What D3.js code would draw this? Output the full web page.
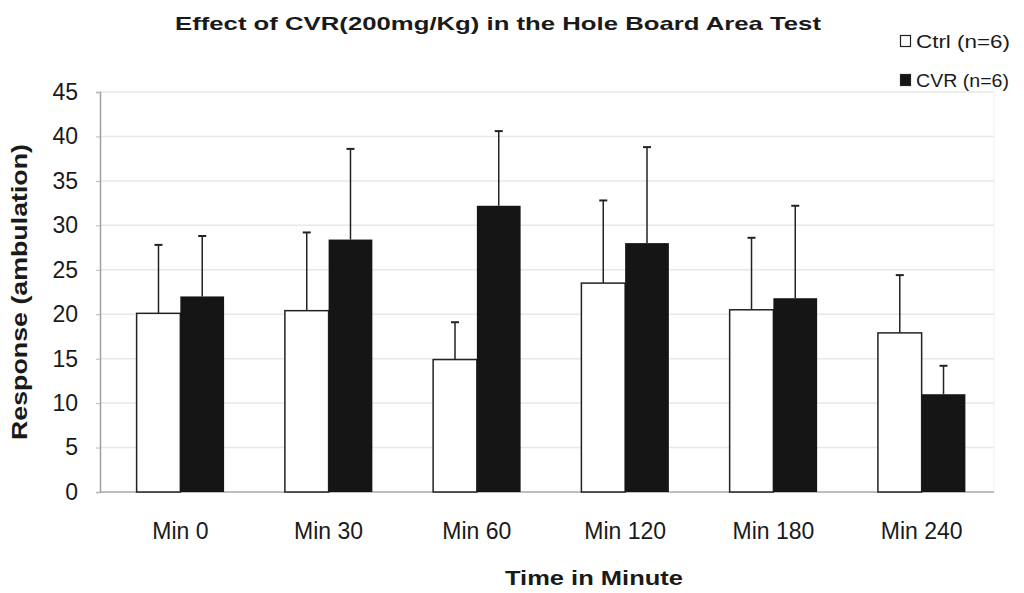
<!DOCTYPE html>
<html>
<head>
<meta charset="utf-8">
<script src="https://cdn.jsdelivr.net/npm/d3@7"></script>
<style>
  body { margin: 0; background: #fff; }
  text { font-family: "Liberation Sans", Arial, sans-serif; fill: #1a1a1a; }
</style>
</head>
<body>
<div class="chart"></div>
<script>
var categories = ["Min 0", "Min 30", "Min 60", "Min 120", "Min 180", "Min 240"];
var seriesNames = ["Ctrl (n=6)", "CVR (n=6)"];
var ctrlValues = [20.1, 20.4, 14.9, 23.5, 20.5, 17.9];
var ctrlErrors = [7.7, 8.8, 4.2, 9.3, 8.1, 6.5];
var cvrValues = [22.0, 28.4, 32.2, 28.0, 21.8, 11.0];
var cvrErrors = [6.8, 10.2, 8.4, 10.8, 10.4, 3.2];
var yTicks = [0, 5, 10, 15, 20, 25, 30, 35, 40, 45];

var width = 1024, height = 593;
var plot = {left: 100, right: 994, top: 92, bottom: 492};

var svg = d3.select(".chart").append("svg")
    .attr("width", width)
    .attr("height", height);

var x = d3.scaleBand()
  .domain(categories)
  .range([plot.left + 4, plot.right + 4])
  .paddingInner(0.41)
  .paddingOuter(0.22);

var xSub = d3.scaleBand()
  .domain(seriesNames)
  .range([0, x.bandwidth()]);

var y = d3.scaleLinear()
  .domain([0, 45])
  .range([plot.bottom, plot.top]);

// grid lines
svg.append("g")
  .selectAll("line")
  .data(yTicks.slice(1))
  .enter().append("line")
    .attr("x1", plot.left)
    .attr("x2", plot.right)
    .attr("y1", function(d) { return y(d); })
    .attr("y2", function(d) { return y(d); })
    .style("stroke", "#e8e8e8")
    .style("stroke-width", 1.5);

svg.append("line")
  .attr("x1", plot.right).attr("x2", plot.right)
  .attr("y1", plot.top).attr("y2", plot.bottom)
  .style("stroke", "#f0f0f0");

// y axis
var yAxis = d3.axisLeft(y).tickValues(yTicks).tickSize(4).tickPadding(18);
var gY = svg.append("g")
  .attr("transform", "translate(" + plot.left + ",0)")
  .call(yAxis);
gY.select(".domain").style("stroke", "#a0a0a0").style("stroke-width", 1.5);
gY.selectAll(".tick line").style("stroke", "#b8b8b8");
gY.selectAll(".tick text")
  .style("font-size", "23px")
  .style("font-family", "'Liberation Sans', Arial, sans-serif")
  .style("fill", "#1a1a1a");

// baseline
svg.append("line")
  .attr("x1", plot.left).attr("x2", plot.right)
  .attr("y1", y(0)).attr("y2", y(0))
  .style("stroke", "#a8a8a8")
  .style("stroke-width", 1.5);

// x axis labels
var xAxis = d3.axisBottom(x).tickSize(0).tickPadding(31);
var gX = svg.append("g")
  .attr("transform", "translate(0," + plot.bottom + ")")
  .call(xAxis);
gX.select(".domain").remove();
gX.selectAll(".tick text")
  .style("font-size", "23px")
  .style("font-family", "'Liberation Sans', Arial, sans-serif")
  .style("fill", "#1a1a1a");

var rows = categories.map(function(c, i) {
  return [
    {cat: c, name: seriesNames[0], value: ctrlValues[i], err: ctrlErrors[i]},
    {cat: c, name: seriesNames[1], value: cvrValues[i], err: cvrErrors[i]}
  ];
});

var group = svg.selectAll(".group")
  .data(rows)
  .enter().append("g")
    .attr("class", "group")
    .attr("transform", function(d) { return "translate(" + x(d[0].cat) + ",0)"; });

// error bars first, so bars sit on top
group.selectAll(".err")
  .data(function(d) { return d; })
  .enter().append("g")
    .attr("class", "err")
    .each(function(d) {
      var g = d3.select(this);
      var cx = xSub(d.name) + xSub.bandwidth() / 2;
      g.append("line")
        .attr("x1", cx).attr("x2", cx)
        .attr("y1", y(d.value)).attr("y2", y(d.value + d.err))
        .style("stroke", "#222").style("stroke-width", 1.5);
      g.append("line")
        .attr("x1", cx - 4).attr("x2", cx + 4)
        .attr("y1", y(d.value + d.err)).attr("y2", y(d.value + d.err))
        .style("stroke", "#222").style("stroke-width", 2);
    });

group.selectAll("rect")
  .data(function(d) { return d; })
  .enter().append("rect")
    .attr("x", function(d) { return xSub(d.name); })
    .attr("y", function(d) { return y(d.value); })
    .attr("width", xSub.bandwidth())
    .attr("height", function(d) { return y(0) - y(d.value); })
    .style("fill", function(d) { return d.name === seriesNames[0] ? "#ffffff" : "#151515"; })
    .style("stroke", "#222")
    .style("stroke-width", function(d) { return d.name === seriesNames[0] ? 1.5 : 0; });

// title
svg.append("text")
  .attr("x", 498)
  .attr("y", 30)
  .attr("text-anchor", "middle")
  .attr("textLength", 646)
  .attr("lengthAdjust", "spacingAndGlyphs")
  .style("font-size", "19px")
  .style("font-weight", "bold")
  .text("Effect of CVR(200mg/Kg) in the Hole Board Area Test");

// axis titles
svg.append("text")
  .attr("x", 594)
  .attr("y", 585)
  .attr("text-anchor", "middle")
  .attr("textLength", 178)
  .attr("lengthAdjust", "spacingAndGlyphs")
  .style("font-size", "21px")
  .style("font-weight", "bold")
  .text("Time in Minute");

svg.append("text")
  .attr("transform", "translate(27,292) rotate(-90)")
  .attr("text-anchor", "middle")
  .attr("textLength", 296)
  .attr("lengthAdjust", "spacingAndGlyphs")
  .style("font-size", "22px")
  .style("font-weight", "bold")
  .text("Response (ambulation)");

// legend
var legend = svg.selectAll(".legend")
  .data(seriesNames)
  .enter().append("g")
    .attr("class", "legend")
    .attr("transform", function(d, i) { return "translate(900," + (i === 0 ? 41 : 80) + ")"; });

legend.append("rect")
  .attr("x", 0.5).attr("y", -5.5)
  .attr("width", 10).attr("height", 11)
  .style("fill", function(d, i) { return i === 0 ? "#fff" : "#151515"; })
  .style("stroke", "#222")
  .style("stroke-width", 1.2);

legend.append("text")
  .attr("x", 16)
  .attr("y", 6.5)
  .attr("textLength", function(d, i) { return i === 0 ? 94 : 93; })
  .attr("lengthAdjust", "spacingAndGlyphs")
  .style("font-size", "18px")
  .text(function(d) { return d; });
</script>
</body>
</html>
